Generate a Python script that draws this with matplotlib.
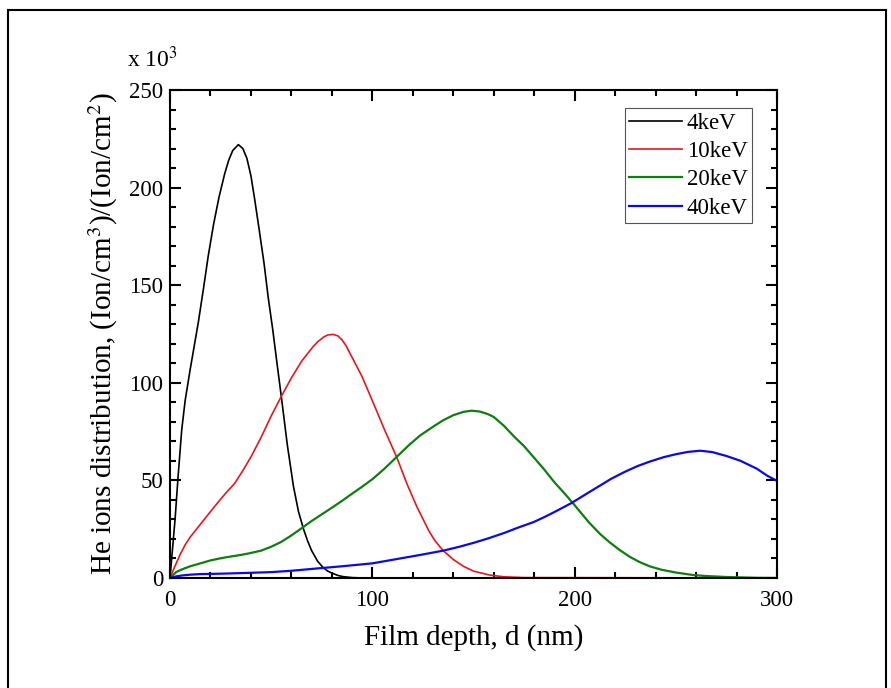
import matplotlib
matplotlib.use("Agg")
import matplotlib.pyplot as plt
from matplotlib.ticker import MultipleLocator
from matplotlib.lines import Line2D

plt.rcParams['font.family'] = ['Liberation Serif', 'DejaVu Serif']
plt.rcParams['mathtext.fontset'] = 'stix'

# depth (nm) and distribution (x 10^3)
d_4kev = [0, 1, 2.5, 4, 5.8, 7.5, 10, 12, 14, 16.5, 18.9, 21.5, 24.2, 27,
          29, 31, 33.8, 36, 38, 40, 41.7, 44, 46.5, 48.5, 50.8, 53, 55, 58,
          61, 63.5, 66, 68, 70, 73, 75.8, 78, 80, 83, 85.5, 90, 95, 300]
v_4kev = [0, 12, 30, 52, 76, 91, 107, 119, 131, 148, 165, 181, 195, 207,
          214, 219, 222, 220, 215, 206, 195, 179, 161, 144, 127, 109, 93, 68,
          47, 34, 25, 19, 14, 8.5, 5.2, 3.5, 2.5, 1.3, 0.7, 0.2, 0, 0]

d_10kev = [0, 2, 5, 7.5, 10, 15, 20, 24.7, 28, 32, 36, 40, 45, 50, 55, 60, 65,
           70.7, 73, 76, 78, 80.7, 83, 85, 87, 89, 95, 100.5, 106, 112, 117,
           122, 128, 131, 135, 140, 145, 150, 158, 165, 175, 300]
v_10kev = [0, 5, 12, 17, 21, 27.5, 34, 40, 44, 48.5, 55, 62, 72, 83, 93, 102.5,
           111, 118.5, 121, 123.5, 124.5, 124.8, 124, 122, 119, 115, 103, 89.6,
           76, 62, 48.5, 36.5, 24, 19, 14, 9.5, 6, 3.5, 1.5, 0.6, 0.2, 0]

d_20kev = [0, 1.5, 3, 5, 7.4, 10, 15, 20, 25.5, 30, 35, 39, 45, 50, 55, 60, 66,
           70, 75, 80, 85, 90, 95, 100, 106, 112, 118, 123.6, 130, 135, 140,
           145, 149, 153, 157, 160, 165, 170, 175, 179.6, 185, 190, 195, 199.4,
           203, 207, 212.6, 217, 222, 227, 232, 237, 243, 250, 258.6, 265, 275,
           290, 300]
v_20kev = [0, 1.5, 3, 4, 5, 6, 7.5, 9, 10.2, 11, 11.8, 12.6, 14, 16, 18.5, 21.8,
           26.2, 29.2, 32.6, 36, 39.5, 43.2, 46.8, 50.6, 56, 62, 68, 73, 77.5,
           80.8, 83.4, 85.1, 85.7, 85.3, 84, 82.5, 78, 72.5, 67.5, 62, 55.5, 49,
           43.3, 38, 33.5, 28.5, 22.5, 18.5, 14.5, 11, 8.2, 6, 4.2, 2.8, 1.5, 1,
           0.5, 0.1, 0]

d_40kev = [0, 3, 6, 10, 15, 25, 35, 50, 60, 74, 85, 100, 113.7, 123.6, 135,
           143, 150, 157, 165, 172, 179.6, 185, 190, 198.6, 205, 212.6, 218,
           225, 231, 237, 244, 250, 256, 262, 268, 275, 282, 290, 295, 300]
v_40kev = [0, 0.8, 1.3, 1.7, 2, 2.2, 2.5, 3, 3.7, 5, 6, 7.5, 10, 11.8, 14,
           16, 18, 20.2, 23, 25.8, 28.6, 31.2, 33.8, 38.5, 42.6, 47.4, 50.8,
           54.5, 57.3, 59.6, 61.9, 63.4, 64.6, 65.2, 64.5, 62.5, 60, 56, 52.5,
           49.7]

series = [
    ("4keV", d_4kev, v_4kev, "black", 1.2),
    ("10keV", d_10kev, v_10kev, "#e8161b", 1.2),
    ("20keV", d_20kev, v_20kev, "#0f7d0f", 1.6),
    ("40keV", d_40kev, v_40kev, "#0a0ae6", 1.6),
]

fig = plt.figure(figsize=(8.91, 6.88), dpi=100)
ax = fig.add_axes([0.1908, 0.1599, 0.6813, 0.7093])

for label, d, v, color, lw in series:
    ax.plot(d, v, color=color, lw=lw, label=label)

ax.set_xlim(0, 300)
ax.set_ylim(0, 250)
ax.xaxis.set_major_locator(MultipleLocator(100))
ax.xaxis.set_minor_locator(MultipleLocator(20))
ax.yaxis.set_major_locator(MultipleLocator(50))
ax.yaxis.set_minor_locator(MultipleLocator(10))
ax.tick_params(which='both', direction='in', top=True, right=True,
               labelsize=16.5, width=1.5)
ax.tick_params(which='major', length=8, pad=5)
ax.tick_params(which='minor', length=4.5)
ax.tick_params(axis='x', which='major', pad=8.5)
for sp in ax.spines.values():
    sp.set_linewidth(1.5)

ax.set_xlabel("Film depth, d (nm)", fontsize=21, labelpad=9.5)
ax.set_ylabel("He ions distribution, (Ion/cm$^3$)/(Ion/cm$^2$)",
              fontsize=21, labelpad=6.5)
ax.text(-0.071, 1.063, "x 10$^3$", transform=ax.transAxes, fontsize=17,
        ha='left', va='center')

leg = ax.legend(loc='upper right', bbox_to_anchor=(0.959, 0.963),
                fontsize=16.5, fancybox=False, framealpha=1,
                edgecolor='#555555', handlelength=2.3, handletextpad=0.2,
                labelspacing=0.32, borderpad=0.2, borderaxespad=0)
leg.get_frame().set_linewidth(0.8)

# outer frame around the picture
W, H = 891, 688
fig.add_artist(Line2D([8 / W, 8 / W], [0, 1 - 10 / H], color='black', lw=1.5,
                      transform=fig.transFigure))
fig.add_artist(Line2D([8 / W, 886 / W], [1 - 10 / H, 1 - 10 / H], color='black',
                      lw=1.5, transform=fig.transFigure))
fig.add_artist(Line2D([886 / W, 886 / W], [0, 1 - 10 / H], color='black', lw=1.5,
                      transform=fig.transFigure))

fig.savefig("out.png", dpi=100)
